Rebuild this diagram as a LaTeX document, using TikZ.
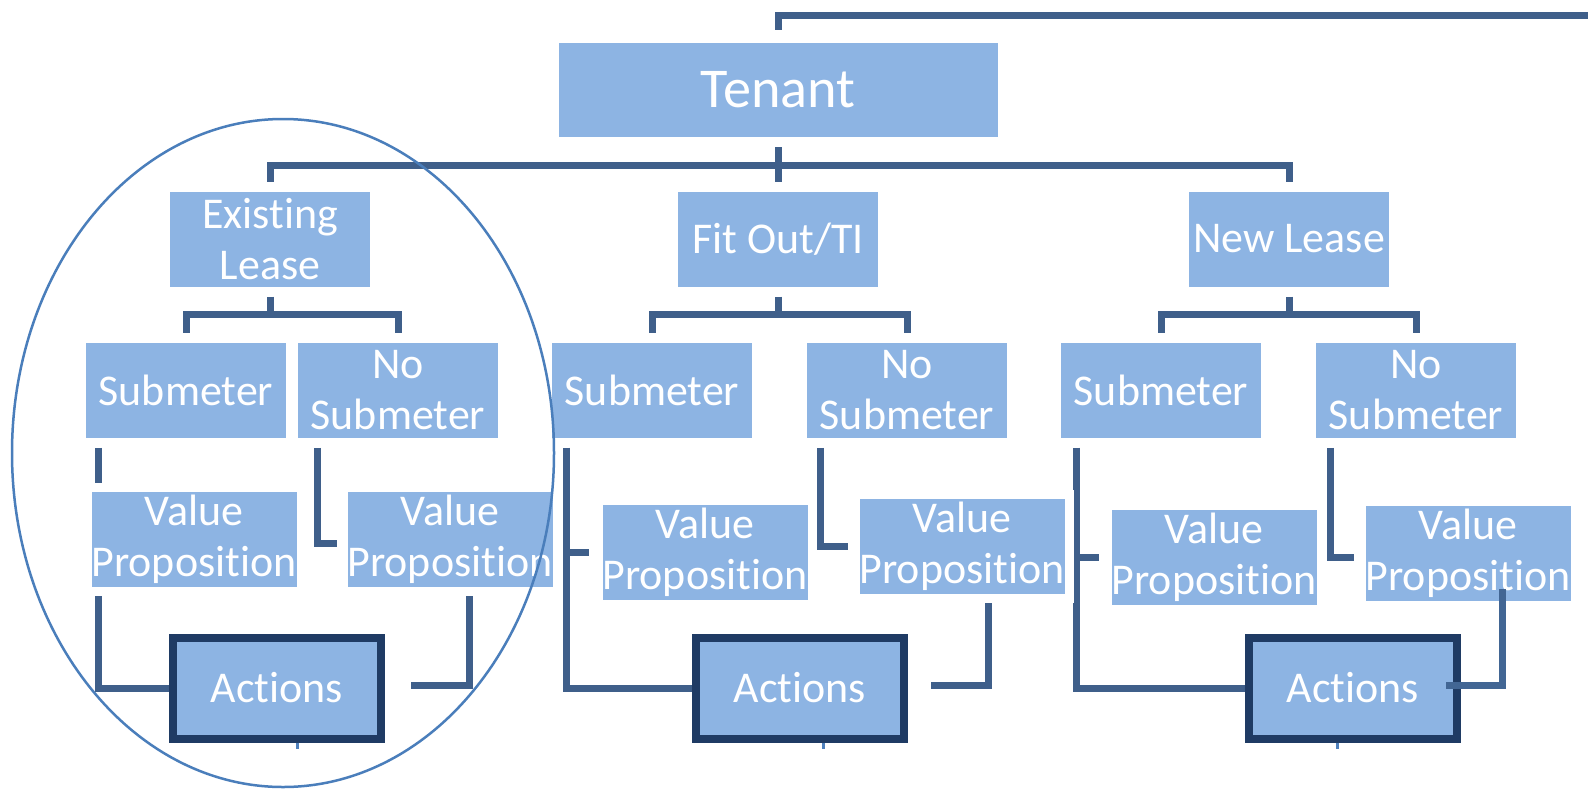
\documentclass[tikz,border=0pt]{standalone}
\usepackage{fontspec}
\setmainfont{Carlito}[Ligatures={NoCommon}]
\usetikzlibrary{calc,backgrounds}
\newlength{\du}
\setlength{\du}{0.02cm}
\definecolor{boxfill}{rgb}{0.553, 0.706, 0.890}
\definecolor{linecolor}{rgb}{0.247, 0.373, 0.541}
\definecolor{actline}{rgb}{0.122, 0.231, 0.392}
\definecolor{ringcolor}{rgb}{0.290, 0.494, 0.733}
\definecolor{tickcolor}{rgb}{0.310, 0.506, 0.741}
\tikzset{
  tile/.style={fill=boxfill, text=white, align=center, inner sep=0pt,
    font=\fontsize{25}{29}\selectfont},
  box/.style={tile, minimum width=200\du, minimum height=95\du,
    preaction={draw=white, line width=18\du}},
  topbox/.style={box, minimum width=439\du, minimum height=94\du,
    font=\fontsize{32}{38}\selectfont},
  actbox/.style={tile, draw=actline, line width=8\du,
    minimum width=208\du, minimum height=101\du},
  conn/.style={draw=linecolor, line width=7\du},
  stub/.style={draw=tickcolor, line width=3\du},
  ring/.style={draw=ringcolor, line width=2.5\du}
}
\begin{document}
\begin{tikzpicture}
\pgftransformxscale{1.000000}
\pgftransformyscale{-1.000000}
\useasboundingbox (0\du,0\du) rectangle (1588\du,791\du);
% level 1
\node[topbox] (ten) at (778\du,90\du) {Tenant};
% level 2
\node[box] (exlease) at (270\du,239\du) {Existing\\Lease};
\node[box] (fitout) at (778\du,239\du) {Fit Out/TI};
\node[box] (newlease) at (1289\du,239\du) {New Lease};
% level 3
\node[box] (exsub) at (186\du,390\du) {Submeter};
\node[box] (exno) at (398\du,390\du) {No\\Submeter};
\node[box] (fitsub) at (652\du,390\du) {Submeter};
\node[box] (fitno) at (907\du,390\du) {No\\Submeter};
\node[box] (newsub) at (1161\du,390\du) {Submeter};
\node[box] (newno) at (1416\du,390\du) {No\\Submeter};
% level 4
\node[box] (exvpa) at (194\du,539\du) {Value\\Proposition};
\node[box] (exvpb) at (450\du,539\du) {Value\\Proposition};
\node[box] (fitvpa) at (705\du,552\du) {Value\\Proposition};
\node[box] (fitvpb) at (962\du,546\du) {Value\\Proposition};
\node[box] (newvpa) at (1214\du,557\du) {Value\\Proposition};
\node[box] (newvpb) at (1468\du,553\du) {Value\\Proposition};
% level 5
\node[actbox] (exact) at (277\du,688\du) {Actions};
\node[actbox] (fitact) at (800\du,688\du) {Actions};
\node[actbox] (newact) at (1353\du,688\du) {Actions};
\coordinate (offright) at (1588\du,15\du);
\begin{pgfonlayer}{background}
\fill[white] (0\du,0\du) rectangle (1588\du,791\du);
\draw[conn] ($(ten.north)+(0,-13\du)$) |- (offright);
\foreach \c in {exlease,fitout,newlease}
  \draw[conn] ($(ten.south)+(0,10\du)$) -- ++(0,18\du) -| ($(\c.north)+(0,-9\du)$);
\foreach \p/\a/\b in {exlease/exsub/exno,fitout/fitsub/fitno,newlease/newsub/newno}
  \foreach \c in {\a,\b}
    \draw[conn] ($(\p.south)+(0,10\du)$) -- ++(0,18\du) -| ($(\c.north)+(0,-9\du)$);
% existing lease
\draw[conn] ($(exsub.south west)+(13\du,10\du)$) |- (exact.west);
\draw[conn] ($(exno.south west)+(20\du,10\du)$) |- ($(exvpb.west)+(-10\du,4\du)$);
\draw[conn] ($(exvpb.south)+(19\du,0)$) |- ($(exact.east)+(26\du,-3\du)$);
% fit out
\draw[conn] ($(fitsub.south west)+(15\du,10\du)$) |- (fitact.west);
\draw[conn] ($(fitsub.south west)+(15\du,10\du)$) |- ($(fitvpa.west)+(-13\du,0)$);
\draw[conn] ($(fitno.south west)+(14\du,10\du)$) |- ($(fitvpb.west)+(-11\du,0)$);
\draw[conn] ($(fitvpb.south)+(26\du,0)$) |- ($(fitact.east)+(23\du,-3\du)$);
% new lease
\draw[conn] ($(newsub.south west)+(16\du,10\du)$) |- (newact.west);
\draw[conn] ($(newsub.south west)+(16\du,10\du)$) |- ($(newvpa.west)+(-12\du,0)$);
\draw[conn] ($(newno.south west)+(15\du,10\du)$) |- ($(newvpb.west)+(-11\du,4\du)$);
\end{pgfonlayer}
\draw[conn, draw=linecolor!80!tickcolor] ($(newvpb.south)+(34\du,-12\du)$) |- ($(newact.east)+(-15\du,-3\du)$);
% stubs below actions
\draw[stub] ($(exact.south)+(20\du,0)$) -- ++(0,6\du);
\draw[stub] ($(fitact.south)+(23\du,0)$) -- ++(0,6\du);
\draw[stub] ($(newact.south)+(-16\du,0)$) -- ++(0,6\du);
% ring round existing lease
\draw[ring] (283\du,453\du) ellipse [x radius=271\du, y radius=334\du];
\end{tikzpicture}
\end{document}
